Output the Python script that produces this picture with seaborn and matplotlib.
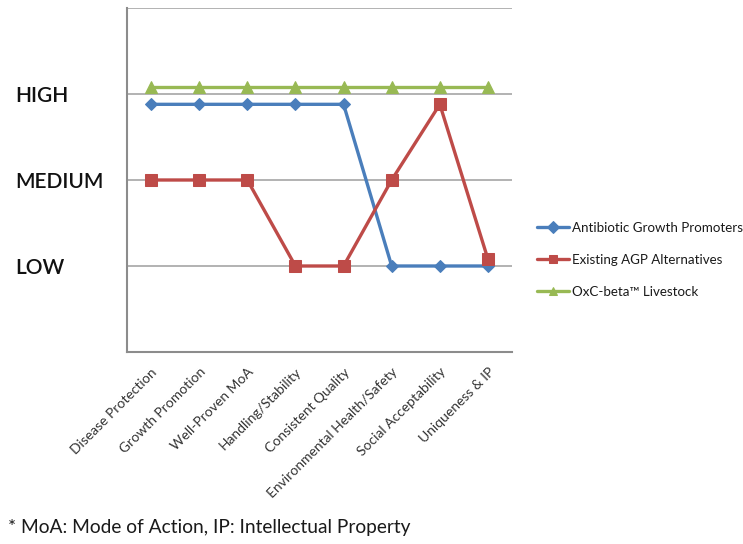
import matplotlib
matplotlib.use("Agg")
import matplotlib.pyplot as plt
import seaborn as sns
import pandas as pd
import numpy as np

# Criteria along the x axis
criteria = ["Disease Protection", "Growth Promotion", "Well-Proven MoA",
            "Handling/Stability", "Consistent Quality",
            "Environmental Health/Safety", "Social Acceptability",
            "Uniqueness & IP"]

# Ratings on a LOW (1) / MEDIUM (2) / HIGH (3) scale
agp = [2.88, 2.88, 2.88, 2.88, 2.88, 1.0, 1.0, 1.0]
alternatives = [2.0, 2.0, 2.0, 1.0, 1.0, 2.0, 2.88, 1.08]
oxc_beta = [3.08, 3.08, 3.08, 3.08, 3.08, 3.08, 3.08, 3.08]

series_names = ["Antibiotic Growth Promoters", "Existing AGP Alternatives",
                "OxC-beta\u2122 Livestock"]
level_values = [1, 2, 3]
level_labels = ["LOW", "MEDIUM", "HIGH"]
footnote = "* MoA: Mode of Action, IP: Intellectual Property"

sns.set_style("white")
plt.rcParams["font.family"] = ["Lato", "DejaVu Sans"]

frames = []
for name, vals in zip(series_names, [agp, alternatives, oxc_beta]):
    frames.append(pd.DataFrame({"criterion": criteria, "rating": vals,
                                "series": name, "pos": np.arange(len(criteria))}))
df = pd.concat(frames, ignore_index=True)

palette = {series_names[0]: "#4A7EBB", series_names[1]: "#BE4B48",
           series_names[2]: "#98B954"}
markers = {series_names[0]: "D", series_names[1]: "s", series_names[2]: "^"}
sizes = {series_names[0]: 6.5, series_names[1]: 9, series_names[2]: 8}

fig = plt.figure(figsize=(7.43, 5.44), dpi=100)
ax = fig.add_axes([127 / 743, 1 - 352 / 544, (512 - 127) / 743, (352 - 8) / 544])

for name in series_names:
    sub = df[df["series"] == name]
    sns.lineplot(data=sub, x="pos", y="rating", ax=ax, color=palette[name],
                 marker=markers[name], markersize=sizes[name],
                 markeredgecolor=palette[name], linewidth=2.4, label=name,
                 zorder=3)

ax.set_xlim(-0.5, len(criteria) - 0.5)
ax.set_ylim(0, 4)

# Horizontal gridlines at each level and at the top
for y in [1, 2, 3, 4]:
    ax.axhline(y, color="#A6A6A6", linewidth=1.2, zorder=1)

ax.set_yticks(level_values)
ax.set_yticklabels(level_labels, fontsize=15, color="#111111",
                   fontweight="semibold")
ax.tick_params(axis="y", length=0, pad=0)
for lab in ax.get_yticklabels():
    lab.set_horizontalalignment("left")
    lab.set_x(-112 / 385)

ax.set_xticks(np.arange(len(criteria)))
ax.set_xticklabels(criteria, rotation=45, ha="right", rotation_mode="anchor",
                   fontsize=10, color="#333333")
ax.tick_params(axis="x", which="major", length=0, pad=10)
ax.set_xticks(np.arange(-0.5, len(criteria)), minor=True)
ax.tick_params(axis="x", which="minor", length=5, width=1.2, color="#8C8C8C",
               direction="out")
ax.set_xlabel("")
ax.set_ylabel("")

for side in ["top", "right"]:
    ax.spines[side].set_visible(False)
for side in ["left", "bottom"]:
    ax.spines[side].set_color("#8C8C8C")
    ax.spines[side].set_linewidth(1.5)

leg = ax.legend(loc="center left", bbox_to_anchor=(1.035, 0.267), frameon=False,
                fontsize=9.6, handlelength=2.4, labelspacing=1.5,
                handletextpad=0.2)
for line in leg.get_lines():
    line.set_markersize(6)
for txt in leg.get_texts():
    txt.set_color("#1a1a1a")

fig.text(8 / 743, 1 - 527 / 544, footnote, fontsize=13.8, va="center",
         ha="left", color="#1a1a1a")

fig.savefig("out.png", dpi=100)
